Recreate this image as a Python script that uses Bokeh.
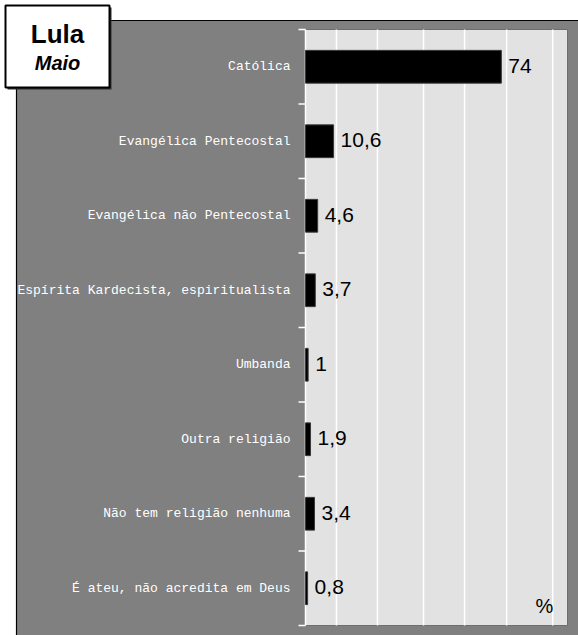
from bokeh.plotting import figure
from bokeh.models import ColumnDataSource, Range1d
from bokeh.embed import file_html
from bokeh.resources import INLINE
from bokeh.core.properties import value

# ---- data ----
categories = [
    "Católica",
    "Evangélica Pentecostal",
    "Evangélica não Pentecostal",
    "Espírita Kardecista, espiritualista",
    "Umbanda",
    "Outra religião",
    "Não tem religião nenhuma",
    "É ateu, não acredita em Deus",
]
percent = [74, 10.6, 4.6, 3.7, 1, 1.9, 3.4, 0.8]
value_labels = ["74", "10,6", "4,6", "3,7", "1", "1,9", "3,4", "0,8"]
title_main = "Lula"
title_sub = "Maio"
unit_label = "%"
grid_ticks = [11.7, 27.2, 44.6, 60.1, 76.0, 93.4]
x_max = 99

# ---- layout constants (pixels on the canvas) ----
W, H = 578, 635
FRAME_L, FRAME_R, FRAME_T, FRAME_B = 305, 567, 29, 625
n = len(categories)
PX = (FRAME_R - FRAME_L) / x_max          # pixels per percent
CAT_H = (FRAME_B - FRAME_T) / n           # pixels per category band


def sx(px):
    return (px - FRAME_L) / PX


def sy(py):
    return (FRAME_B - py) / CAT_H


p = figure(width=W, height=H,
           x_range=Range1d(sx(0), sx(W)), y_range=Range1d(sy(H), sy(0)),
           output_backend="svg", toolbar_location=None,
           x_axis_location=None, y_axis_location=None,
           min_border=0)
p.min_border_left = p.min_border_right = p.min_border_top = p.min_border_bottom = 0
p.background_fill_color = "white"
p.border_fill_color = "white"
p.outline_line_color = None
p.xgrid.visible = False
p.ygrid.visible = False

# grey panel with black top/left edge
p.quad(left=sx(16), right=sx(W + 10), top=sy(20), bottom=sy(H + 10),
       fill_color="#808080", line_color="black", line_width=1.2)

# plot area
p.quad(left=0, right=x_max, bottom=0, top=n,
       fill_color="#e2e2e2", line_color="#6e6e6e", line_width=1)

centers = [n - 0.5 - i for i in range(n)]
bounds = list(range(n + 1))

# vertical gridlines
p.segment(x0=grid_ticks, x1=grid_ticks, y0=0, y1=n,
          line_color="white", line_width=1.5)

# category axis: line + boundary ticks + labels
p.segment(x0=0, x1=0, y0=0, y1=n, line_color="white", line_width=1.5)
p.segment(x0=sx(FRAME_L - 7), x1=0, y0=bounds, y1=bounds,
          line_color="white", line_width=1.5)
p.text(x=0, y=centers, text=categories, x_offset=-15,
       text_align="right", text_baseline="middle",
       text_font=value("Liberation Mono"), text_font_size="13px",
       text_color="white")

# bars + values
src = ColumnDataSource(dict(y=centers, pct=percent, lbl=value_labels))
p.hbar(y="y", left=0, right="pct", height=0.44, source=src,
       fill_color="black", line_color="#3a3a3a", line_width=1)
p.text(x="pct", y="y", text="lbl", source=src, x_offset=7, y_offset=-1,
       text_baseline="middle", text_align="left",
       text_font=value("Liberation Sans"), text_font_size="21px",
       text_color="black")

# unit
p.text(x=[sx(544)], y=[sy(605)], text=[unit_label],
       text_align="center", text_baseline="middle",
       text_font=value("Liberation Sans"), text_font_size="20px",
       text_color="black")

# title box with shadow
p.quad(left=sx(7), right=sx(111), top=sy(7), bottom=sy(89),
       fill_color="#303030", line_color=None)
p.quad(left=sx(5), right=sx(109), top=sy(5), bottom=sy(87),
       fill_color="white", line_color="black", line_width=2)
p.text(x=[sx(57)], y=[sy(33)], text=[title_main],
       text_align="center", text_baseline="middle",
       text_font=value("Liberation Sans"), text_font_style="bold",
       text_font_size="26px", text_color="black")
p.text(x=[sx(57)], y=[sy(62)], text=[title_sub],
       text_align="center", text_baseline="middle",
       text_font=value("Liberation Sans"), text_font_style="bold italic",
       text_font_size="20px", text_color="black")

open("out.html", "w").write(file_html(p, INLINE))
